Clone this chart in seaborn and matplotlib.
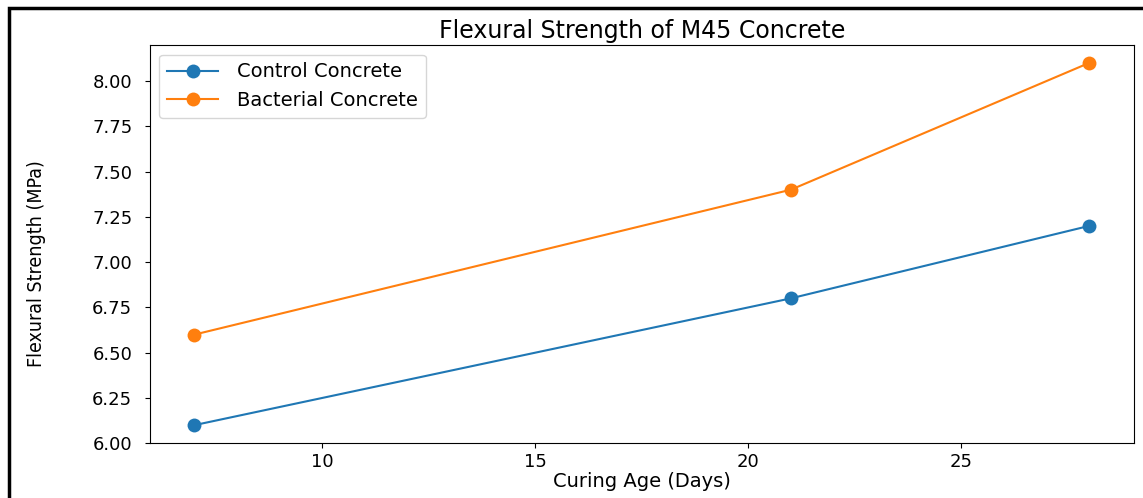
import pandas as pd
import matplotlib
matplotlib.use("Agg")
import matplotlib.pyplot as plt
import seaborn as sns
from matplotlib.patches import Rectangle

# curing age (days) and flexural strength (MPa)
days = [7, 21, 28]
control = [6.1, 6.8, 7.2]
bacterial = [6.6, 7.4, 8.1]
series_names = ["Control Concrete", "Bacterial Concrete"]

df = pd.DataFrame({
    "days": days + days,
    "strength": control + bacterial,
    "mix": [series_names[0]] * len(days) + [series_names[1]] * len(days),
})

fig = plt.figure(figsize=(11.43, 4.98), dpi=100)
ax = fig.add_axes([0.131, 0.110, 0.861, 0.800])

sns.lineplot(data=df, x="days", y="strength", hue="mix",
             palette=["#1f77b4", "#ff7f0e"], marker="o", markersize=10,
             markeredgewidth=0, linewidth=1.5, ax=ax)

ax.set_title("Flexural Strength of M45 Concrete", fontsize=17, pad=5,
             family="DejaVu Sans", fontstretch="normal")
ax.set_xlabel("Curing Age (Days)", fontsize=14, labelpad=1)
ax.set_ylabel("Flexural Strength (MPa)", fontsize=14, family="DejaVu Sans",
              fontstretch="condensed")
ax.yaxis.set_label_coords(-0.105, 0.45)
ax.tick_params(labelsize=13)
ax.tick_params(axis="y", pad=9)
ax.set_xticks([10, 15, 20, 25])
ax.legend(title=None, loc="upper left", fontsize=14, handlelength=2.6,
          handletextpad=1.0)

# screenshot frame
fig.patches.append(Rectangle((9 / 1143, -0.05), 1.2, 0.05 + 490 / 498,
                             transform=fig.transFigure, fill=False,
                             edgecolor="black", linewidth=2.5))

fig.savefig("out.png", dpi=100)
